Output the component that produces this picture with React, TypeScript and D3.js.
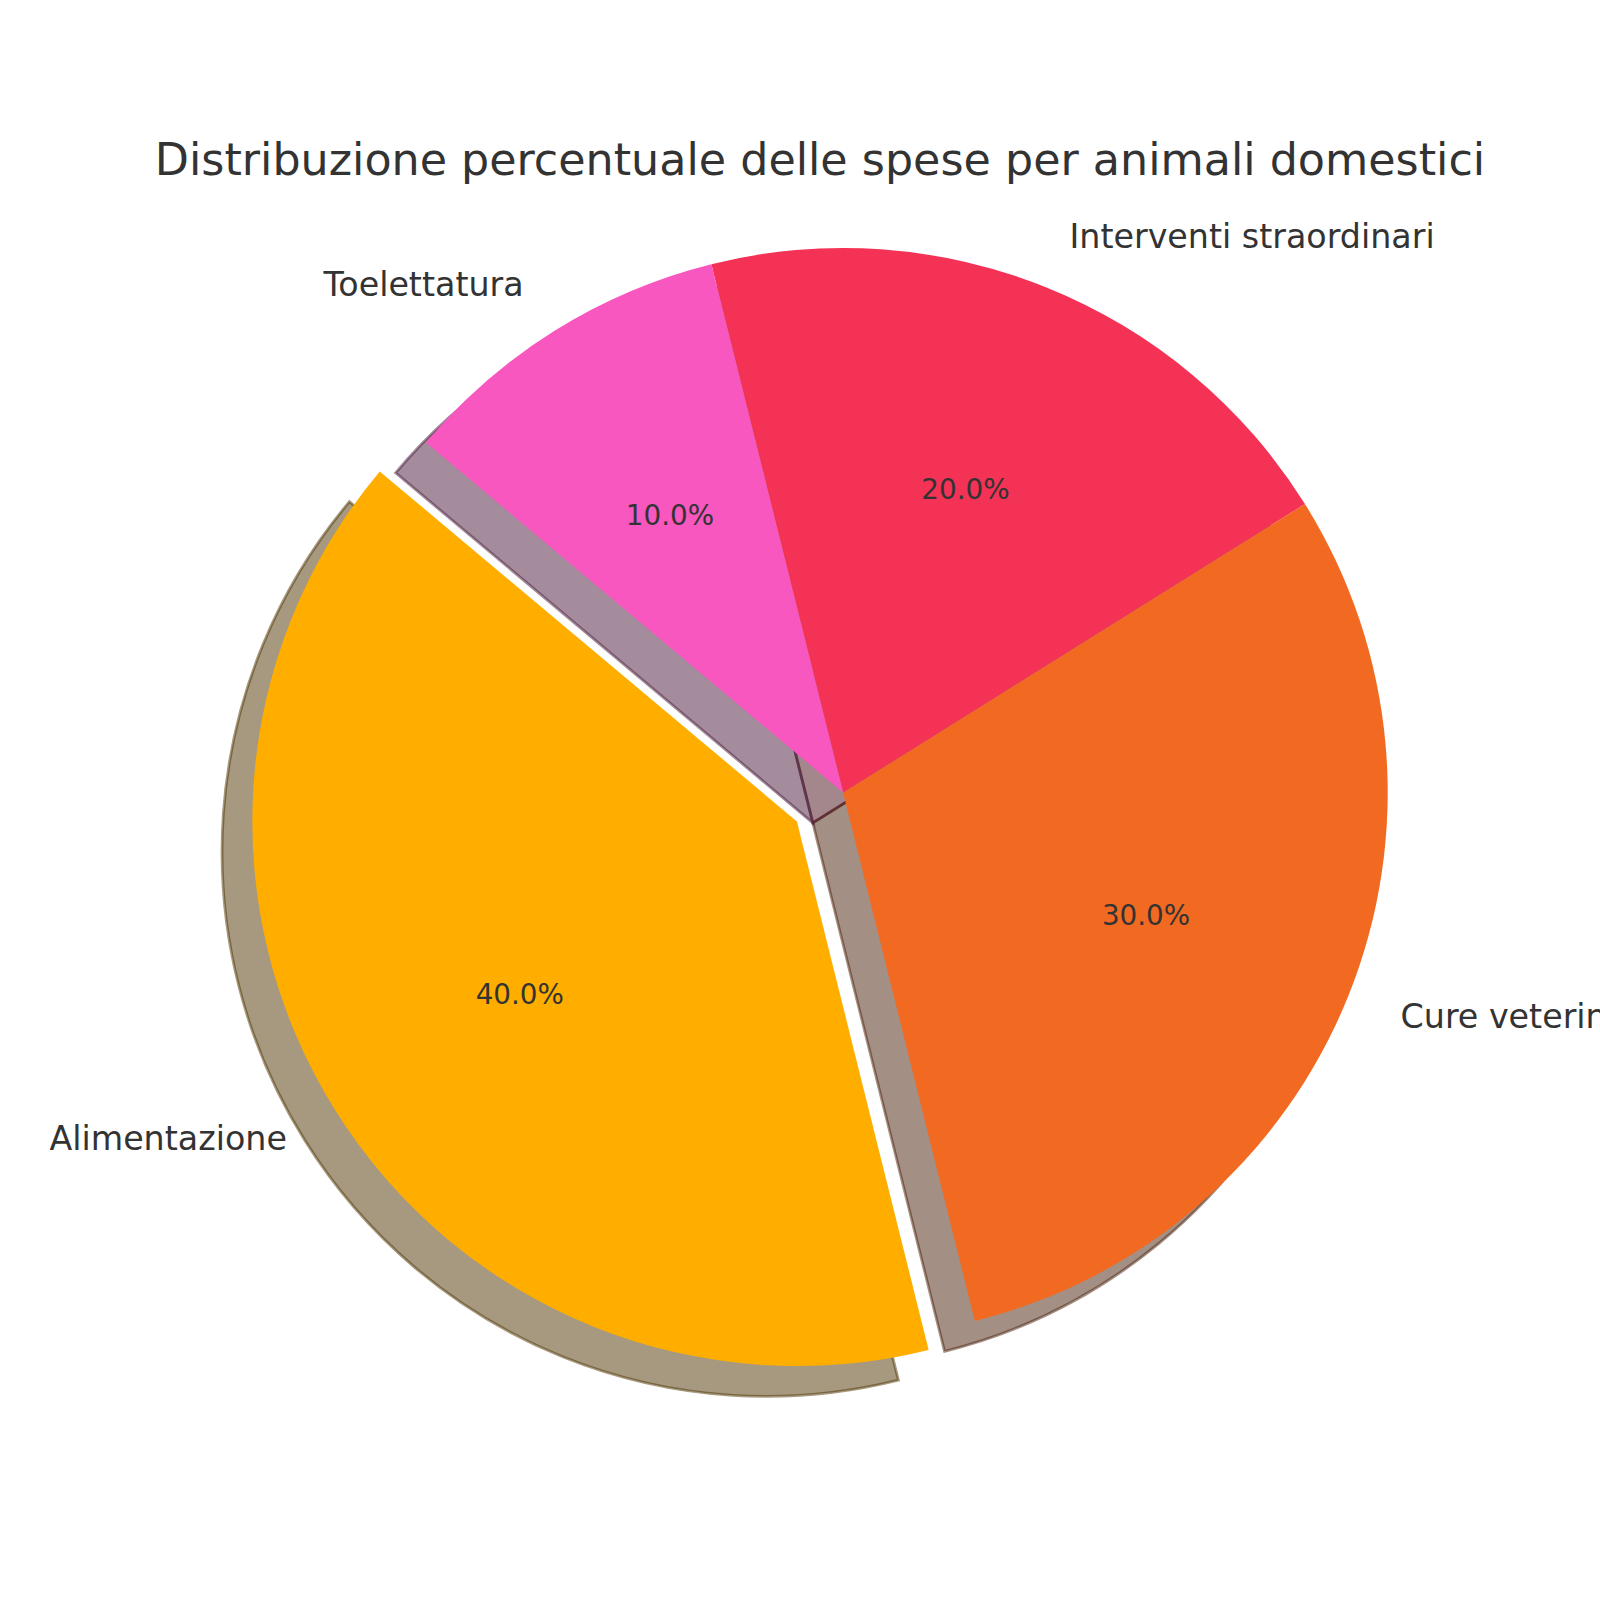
import React, { useEffect } from "react";
import * as d3 from "d3";

const categories = ["Alimentazione", "Cure veterinarie", "Interventi straordinari", "Toelettatura"];
const values = [40, 30, 20, 10];
const colors = ["#FFAE00", "#F26A21", "#F43256", "#F757BF"];
const explode = [0.1, 0, 0, 0];
const title = "Distribuzione percentuale delle spese per animali domestici";

const W = 1600;
const H = 1600;
const CX = 843.1;
const CY = 792.6;
const R = 544.6;
const SHADOW = 0.0556 * R;
const START_DEG = 140; // matplotlib startangle (ccw from 3 o'clock)
const FONT = "'DejaVu Sans', sans-serif";
const TEXT = "#333333";

function shade(c: string) {
  const rgb = d3.rgb(c);
  return d3.rgb(rgb.r * 0.3, rgb.g * 0.3, rgb.b * 0.3).formatHex();
}

export default function App() {
  useEffect(() => {
    document.body.style.margin = "0";
  }, []);

  const startA = ((90 - START_DEG) * Math.PI) / 180;
  const pie = d3
    .pie<number>()
    .sort(null)
    .value((d) => d)
    .startAngle(startA)
    .endAngle(startA - 2 * Math.PI);
  const arcs = pie(values);
  const arcGen = d3.arc<d3.PieArcDatum<number>>().innerRadius(0).outerRadius(R);

  const items = arcs.map((a, i) => {
    const mid = (a.startAngle + a.endAngle) / 2;
    const ux = Math.sin(mid);
    const uy = -Math.cos(mid);
    const ox = CX + explode[i] * R * ux;
    const oy = CY + explode[i] * R * uy;
    return { a, i, ux, uy, ox, oy, path: arcGen(a) as string };
  });

  const total = d3.sum(values);

  return (
    <svg width={W} height={H} style={{ display: "block", background: "#ffffff" }}>
      <rect x={0} y={0} width={W} height={H} fill="#ffffff" />
      <text x={820} y={175} textAnchor="middle" fontFamily={FONT} fontSize={44.4} fill={TEXT}>
        {title}
      </text>
      {items.map((it) => {
        const c = shade(colors[it.i]);
        return (
          <path
            key={"s" + it.i}
            d={it.path}
            transform={`translate(${it.ox - SHADOW},${it.oy + SHADOW})`}
            fill={c}
            fillOpacity={0.5}
            stroke={c}
            strokeOpacity={0.5}
            strokeWidth={2.78}
            strokeLinejoin="miter"
          />
        );
      })}
      {items.map((it) => (
        <path key={"w" + it.i} d={it.path} transform={`translate(${it.ox},${it.oy})`} fill={colors[it.i]} />
      ))}
      {items.map((it) => {
        const right = it.ux > 0;
        const lx = it.ox + 1.1 * R * it.ux + (right ? 2 : -2);
        const ly = it.oy + 1.1 * R * it.uy;
        const fs = 33.3;
        return (
          <text
            key={"l" + it.i}
            x={lx}
            y={ly + 0.276 * fs + 2}
            textAnchor={right ? "start" : "end"}
            fontFamily={FONT}
            fontSize={fs}
            fill={TEXT}
          >
            {categories[it.i]}
          </text>
        );
      })}
      {items.map((it) => {
        const px = it.ox + 0.6 * R * it.ux;
        const py = it.oy + 0.6 * R * it.uy;
        const fs = 27.8;
        return (
          <text
            key={"p" + it.i}
            x={px}
            y={py + 0.276 * fs + 2}
            textAnchor="middle"
            fontFamily={FONT}
            fontSize={fs}
            fill={TEXT}
          >
            {((values[it.i] / total) * 100).toFixed(1) + "%"}
          </text>
        );
      })}
    </svg>
  );
}
